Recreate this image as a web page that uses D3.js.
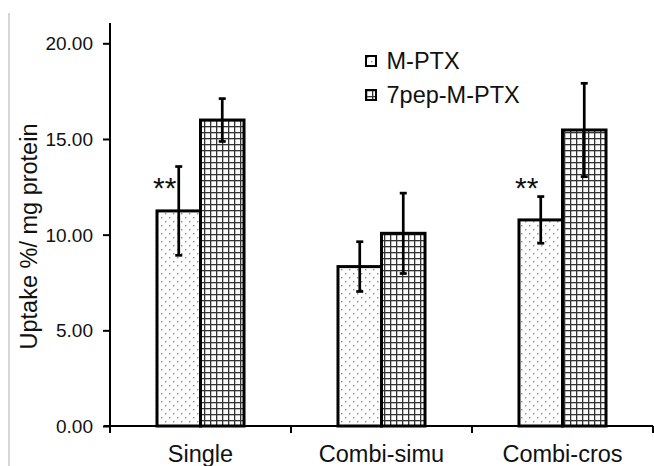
<!DOCTYPE html>
<html>
<head>
<meta charset="utf-8">
<script src="https://cdn.jsdelivr.net/npm/d3@7"></script>
<style>
  body { margin: 0; background: #fff; }
  text { font-family: "Liberation Sans", Arial, sans-serif; fill: #111; }
</style>
</head>
<body>
<div class="chart"></div>
<script>
// data
const categories = ['Single', 'Combi-simu', 'Combi-cros'];
const seriesNames = ['M-PTX', '7pep-M-PTX'];
const mptx = [11.24, 8.33, 10.77];
const mptxErr = [2.32, 1.3, 1.22];
const pep = [15.99, 10.07, 15.47];
const pepErr = [1.12, 2.1, 2.44];
const yTicks = [0, 5, 10, 15, 20];
// significance marks: category, y value of the mark
const marks = [['Single', 12.8], ['Combi-cros', 12.8]];

const SVGWIDTH = 654;
const SVGHEIGHT = 466;

let svg = d3.select('.chart')
  .append('svg')
  .attr('width', SVGWIDTH)
  .attr('height', SVGHEIGHT);

// patterns
const defs = svg.append('defs');
let dots = defs.append('pattern')
  .attr('id', 'dots')
  .attr('patternUnits', 'userSpaceOnUse')
  .attr('width', 8).attr('height', 8);
dots.append('rect').attr('width', 8).attr('height', 8).attr('fill', '#fff');
dots.append('rect').attr('x', 1).attr('y', 1).attr('width', 1.4).attr('height', 1.4).attr('fill', '#8a8a8a');
dots.append('rect').attr('x', 5).attr('y', 5).attr('width', 1.4).attr('height', 1.4).attr('fill', '#8a8a8a');

let grid = defs.append('pattern')
  .attr('id', 'grid')
  .attr('patternUnits', 'userSpaceOnUse')
  .attr('width', 6).attr('height', 6);
grid.append('rect').attr('width', 6).attr('height', 6).attr('fill', '#fff');
grid.append('rect').attr('x', 0).attr('y', 0).attr('width', 1.3).attr('height', 6).attr('fill', '#333');
grid.append('rect').attr('x', 0).attr('y', 0).attr('width', 6).attr('height', 1.3).attr('fill', '#333');

const fills = ['url(#dots)', 'url(#grid)'];

// light frame line on the left
svg.append('line')
  .attr('x1', 9).attr('x2', 9)
  .attr('y1', 13).attr('y2', SVGHEIGHT)
  .attr('stroke', '#c8c8c8').attr('stroke-width', 1.5);

// scales
let x = d3.scaleBand().domain(categories).range([110, 653]);
let xs = d3.scaleBand().domain(seriesNames).range([0, x.bandwidth()]).paddingOuter(1.08);
let y = d3.scaleLinear().domain([0, 20]).range([426, 43.3]);

// rows of data
let rows = categories.map((c, i) => [
  {cat: c, s: seriesNames[0], v: mptx[i], e: mptxErr[i]},
  {cat: c, s: seriesNames[1], v: pep[i], e: pepErr[i]}
]).flat();

// bars
svg.selectAll('rect.bar')
  .data(rows)
  .enter()
  .append('rect')
  .attr('class', 'bar')
  .attr('x', d => x(d.cat) + xs(d.s))
  .attr('y', d => y(d.v))
  .attr('width', xs.bandwidth())
  .attr('height', d => y(0) - y(d.v))
  .attr('fill', d => fills[seriesNames.indexOf(d.s)])
  .attr('stroke', '#000')
  .attr('stroke-width', 3);

// error bars
let err = svg.selectAll('g.err')
  .data(rows)
  .enter()
  .append('g')
  .attr('class', 'err')
  .attr('stroke', '#000')
  .attr('stroke-width', 2.7);
let cx = d => x(d.cat) + xs(d.s) + xs.bandwidth() / 2;
err.append('line')
  .attr('x1', cx).attr('x2', cx)
  .attr('y1', d => y(d.v + d.e)).attr('y2', d => y(d.v - d.e));
err.append('line')
  .attr('x1', d => cx(d) - 3.5).attr('x2', d => cx(d) + 3.5)
  .attr('y1', d => y(d.v + d.e)).attr('y2', d => y(d.v + d.e));
err.append('line')
  .attr('x1', d => cx(d) - 3.5).attr('x2', d => cx(d) + 3.5)
  .attr('y1', d => y(d.v - d.e)).attr('y2', d => y(d.v - d.e));

// axes
let yAxis = svg.append('g')
  .attr('transform', 'translate(110,0)')
  .call(d3.axisLeft(y).tickValues(yTicks).tickFormat(d3.format('.2f')).tickSizeInner(7).tickSizeOuter(0).tickPadding(10));
yAxis.select('.domain').remove();
yAxis.selectAll('line').attr('stroke', '#000').attr('stroke-width', 2);
yAxis.selectAll('text')
  .style('font-size', '19px')
  .attr('font-family', null)
  .attr('dy', '0.35em');
svg.append('line')
  .attr('x1', 110).attr('x2', 110)
  .attr('y1', 23).attr('y2', 433)
  .attr('stroke', '#000').attr('stroke-width', 2);

let xAxis = svg.append('g')
  .attr('transform', 'translate(0,426)');
xAxis.append('line')
  .attr('x1', 104).attr('x2', 653)
  .attr('stroke', '#000').attr('stroke-width', 2);
xAxis.selectAll('line.tk')
  .data(categories.slice(1).concat(['end']))
  .enter()
  .append('line')
  .attr('class', 'tk')
  .attr('x1', d => d === 'end' ? x.range()[1] : x(d))
  .attr('x2', d => d === 'end' ? x.range()[1] : x(d))
  .attr('y1', 0).attr('y2', 7)
  .attr('stroke', '#000').attr('stroke-width', 2);
xAxis.selectAll('text')
  .data(categories)
  .enter()
  .append('text')
  .attr('x', d => x(d) + x.bandwidth() / 2)
  .attr('y', 35.5)
  .attr('text-anchor', 'middle')
  .style('font-size', '23.5px')
  .text(d => d);

// y label
svg.append('text')
  .attr('transform', 'translate(37,236.5) rotate(-90)')
  .attr('text-anchor', 'middle')
  .style('font-size', '23.5px')
  .text('Uptake %/ mg protein');

// significance marks
svg.selectAll('text.sig')
  .data(marks)
  .enter()
  .append('text')
  .attr('class', 'sig')
  .attr('x', d => x(d[0]) + xs(seriesNames[0]) + xs.bandwidth() / 2 - 14)
  .attr('y', d => y(d[1]) + 17)
  .attr('text-anchor', 'middle')
  .style('font-size', '30px')
  .text('**');

// legend
let legend = svg.selectAll('g.legend')
  .data(seriesNames)
  .enter()
  .append('g')
  .attr('class', 'legend')
  .attr('transform', (d, i) => `translate(366, ${56 + i * 34})`);
legend.append('rect')
  .attr('width', 10).attr('height', 10)
  .attr('fill', (d, i) => fills[i])
  .attr('stroke', '#000').attr('stroke-width', 2);
legend.append('text')
  .attr('x', 20.5)
  .attr('y', 12.5)
  .style('font-size', '23.5px')
  .text(d => d);
</script>
</body>
</html>
